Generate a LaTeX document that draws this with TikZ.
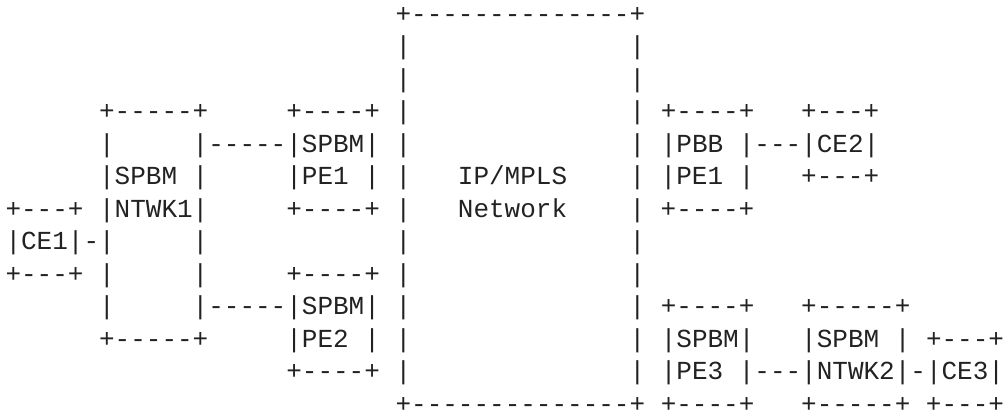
\documentclass[tikz,border=0pt]{standalone}
\usepackage{fontspec}
\setmonofont{Liberation Mono}
\definecolor{inkgrey}{HTML}{222222}
\tikzset{artrow/.style={anchor=base west,inner sep=0pt,outer sep=0pt,text=inkgrey,font=\fontsize{26pt}{26pt}\selectfont\ttfamily}}
\newcommand{\artline}[2]{\node[artrow] (row#1) at (5.5,{412-(22.5+32.5*(#1-1))}) {#2};}
\begin{document}
\begin{tikzpicture}[x=1pt,y=1pt]
\useasboundingbox (0,0) rectangle (1004,412);
\artline{1}{~~~~~~~~~~~~~~~~~~~~~~~~~+--------------+}
\artline{2}{~~~~~~~~~~~~~~~~~~~~~~~~~|~~~~~~~~~~~~~~|}
\artline{3}{~~~~~~~~~~~~~~~~~~~~~~~~~|~~~~~~~~~~~~~~|}
\artline{4}{~~~~~~+-----+~~~~~+----+~|~~~~~~~~~~~~~~|~+----+~~~+---+}
\artline{5}{~~~~~~|~~~~~|-----|SPBM|~|~~~~~~~~~~~~~~|~|PBB~|---|CE2|}
\artline{6}{~~~~~~|SPBM~|~~~~~|PE1~|~|~~~IP/MPLS~~~~|~|PE1~|~~~+---+}
\artline{7}{+---+~|NTWK1|~~~~~+----+~|~~~Network~~~~|~+----+}
\artline{8}{|CE1|-|~~~~~|~~~~~~~~~~~~|~~~~~~~~~~~~~~|}
\artline{9}{+---+~|~~~~~|~~~~~+----+~|~~~~~~~~~~~~~~|}
\artline{10}{~~~~~~|~~~~~|-----|SPBM|~|~~~~~~~~~~~~~~|~+----+~~~+-----+}
\artline{11}{~~~~~~+-----+~~~~~|PE2~|~|~~~~~~~~~~~~~~|~|SPBM|~~~|SPBM~|~+---+}
\artline{12}{~~~~~~~~~~~~~~~~~~+----+~|~~~~~~~~~~~~~~|~|PE3~|---|NTWK2|-|CE3|}
\artline{13}{~~~~~~~~~~~~~~~~~~~~~~~~~+--------------+~+----+~~~+-----+~+---+}
\end{tikzpicture}
\end{document}
